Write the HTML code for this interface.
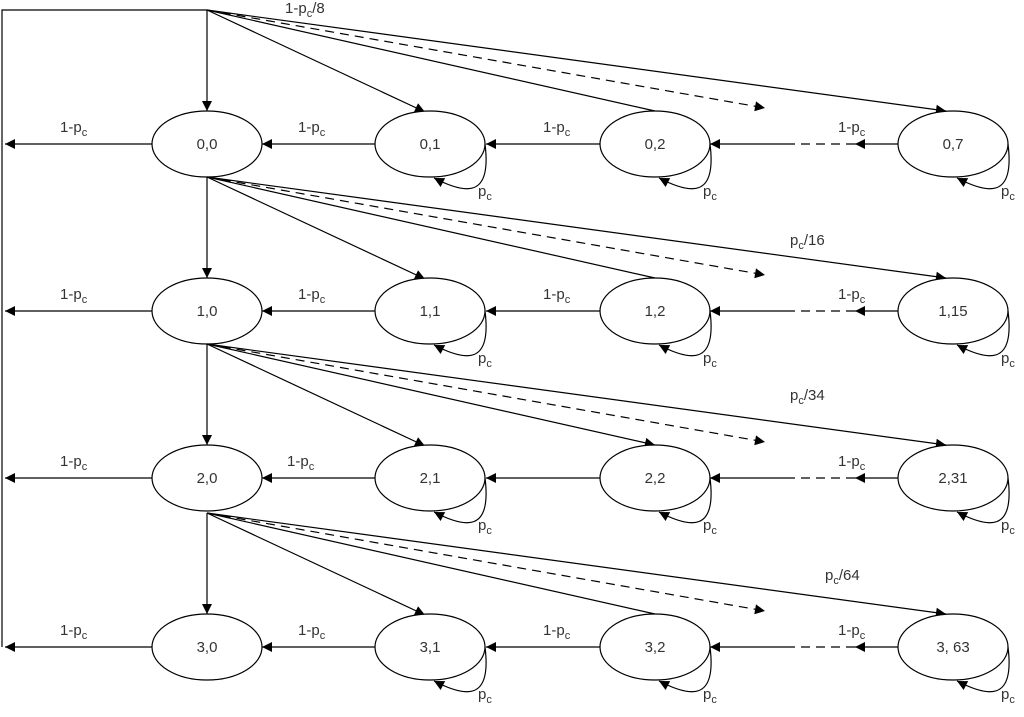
<!DOCTYPE html>
<html><head><meta charset="utf-8"><style>
html,body{margin:0;padding:0;background:#fff}
svg text{font-family:"Liberation Sans",Arial,sans-serif;fill:#333}
</style></head><body>
<svg width="1024" height="712" viewBox="0 0 1024 712" xmlns="http://www.w3.org/2000/svg">
<defs>
<marker id="a" viewBox="0 0 10 10" refX="10" refY="5" markerWidth="14" markerHeight="10" markerUnits="userSpaceOnUse" orient="auto"><path d="M0,0 L10,5 L0,10 z" fill="#000"/></marker>
</defs>
<g id="all" stroke="#000" stroke-width="1.2" fill="none"></g>
<g id="txt"></g>
<polyline points="207,10 2,10 2,647" stroke="#000" stroke-width="1.2" fill="none"/>
<script>
var NS="http://www.w3.org/2000/svg",g=document.getElementById('all'),t=document.getElementById('txt');
function el(n,a,p){var e=document.createElementNS(NS,n);for(var k in a)e.setAttribute(k,a[k]);(p||g).appendChild(e);return e;}
function line(x1,y1,x2,y2,arr,dash){var a={x1:x1,y1:y1,x2:x2,y2:y2};if(arr)a['marker-end']='url(#a)';if(dash)a['stroke-dasharray']='9,6';el('line',a);}
function lab(x,y,pre,post,fs){var e=el('text',{x:x,y:y,'font-size':fs||15},t);e.appendChild(document.createTextNode(pre));var s=el('tspan',{'font-size':11,dy:4},e);s.textContent='c';if(post){var s2=el('tspan',{dy:-4},e);s2.textContent=post;}}
var rows=[144,311,478,647];
var names=[["0,0","0,1","0,2","0,7"],["1,0","1,1","1,2","1,15"],["2,0","2,1","2,2","2,31"],["3,0","3,1","3,2","3, 63"]];
var xs=[207,430,655,953];
rows.forEach(function(cy,r){
 var sy=cy-134;
 line(207,sy,207,cy-33,1);
 line(207,sy,425,cy-32,1);
 line(207,sy,655,cy-33,r==2);
 line(207,sy,765,cy-36,1,1);
 line(207,sy,946,cy-33,1);
 line(898,cy,855,cy,1);
 line(855,cy,795,cy,0,1);
 line(795,cy,710,cy,1);
 line(600,cy,486,cy,1);
 line(375,cy,262,cy,1);
 line(152,cy,5,cy,1);
 xs.forEach(function(cx,i){
  el('ellipse',{cx:cx,cy:cy,rx:55,ry:33,fill:'#fff'});
  var e=el('text',{x:cx,y:cy+5,'font-size':15,'text-anchor':'middle'},t);e.textContent=names[r][i];
  if(i>0){el('path',{d:'M'+(cx+55)+','+cy+' C'+(cx+62)+','+(cy+55)+' '+(cx+35)+','+(cy+50)+' '+(cx+4)+','+(cy+34),'marker-end':'url(#a)'});
   lab(cx+48,cy+52,'p');}
 });
 lab(60,cy-12,'1-p');
 lab(r==2?287:298,cy-12,'1-p');
 if(r!=2)lab(543,cy-12,'1-p');
 lab(838,cy-12,'1-p');
});
lab(285,13,'1-p','/8');
lab(790,245,'p','/16');
lab(790,400,'p','/34');
lab(825,580,'p','/64');
</script>
</svg>
</body></html>
